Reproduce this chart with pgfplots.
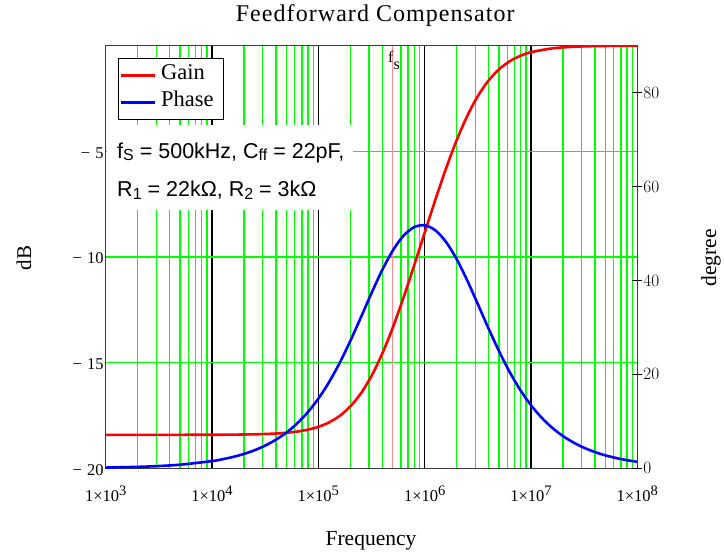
\documentclass[border=0pt]{standalone}
\usepackage{pgfplots}
\pgfplotsset{compat=1.18}
\usepackage{fontspec}
\setmainfont{Liberation Serif}
\setsansfont{Liberation Sans}
\definecolor{gridgreen}{RGB}{0,255,0}
\definecolor{fsred}{RGB}{255,140,140}
\definecolor{framegray}{RGB}{60,60,60}
\newcommand{\xl}[1]{1×10\raisebox{5.5pt}{\fontsize{14.5}{14.5}\selectfont #1}}
\newcommand{\sub}[1]{\raisebox{-2.5pt}{\fontsize{16}{16}\selectfont #1}}

\pgfplotstableread{
f dB
1000 -18.416
2000 -18.416
5000 -18.415
10000 -18.412
12590 -18.410
15850 -18.406
19950 -18.400
25120 -18.391
31620 -18.377
39810 -18.354
50120 -18.318
63100 -18.261
79430 -18.173
100000 -18.038
125900 -17.831
158500 -17.523
199500 -17.078
251200 -16.456
316200 -15.630
398100 -14.587
501200 -13.343
631000 -11.936
794300 -10.419
1000000 -8.852
1259000 -7.300
1585000 -5.825
1995000 -4.487
2512000 -3.330
3162000 -2.386
3981000 -1.654
5012000 -1.117
6310000 -0.738
7943000 -0.480
10000000 -0.309
15850000 -0.126
25120000 -0.050
39810000 -0.020
63100000 -0.008
100000000 -0.003
}\gaintable

\pgfplotstableread{
f deg
1000 0.153
2000 0.307
3000 0.460
5000 0.767
10000 1.533
12590 1.930
15850 2.428
19950 3.055
25120 3.843
31620 4.832
39810 6.071
50120 7.619
63100 9.544
79430 11.920
100000 14.825
125900 18.32
158500 22.42
199500 27.08
251200 32.14
316200 37.30
398100 42.18
501200 46.37
631000 49.51
794300 51.35
1000000 51.75
1259000 50.69
1585000 48.23
1995000 44.59
2512000 40.03
3162000 34.97
3981000 29.82
5012000 24.92
6310000 20.49
7943000 16.66
10000000 13.44
12590000 10.78
15850000 8.62
19950000 6.88
25120000 5.48
31620000 4.36
39810000 3.47
50120000 2.75
63100000 2.19
79430000 1.74
100000000 1.38
}\phasetable

\begin{document}
\begin{tikzpicture}[x=1pt,y=1pt]
\useasboundingbox (0,0) rectangle (724,552);
\begin{axis}[
  at={(105.7pt,83.7pt)}, anchor=south west,
  scale only axis, width=531.6pt, height=422.6pt,
  xmode=log, xmin=1e3, xmax=1e8, ymin=-20, ymax=0,
  axis line style={framegray, line width=1.4pt},
  xtick={1e3,1e4,1e5,1e6,1e7,1e8},
  xticklabels={\xl{3},\xl{4},\xl{5},\xl{6},\xl{7},\xl{8}},
  minor xtick={2e3,3e3,4e3,5e3,6e3,7e3,8e3,9e3,
               2e4,3e4,4e4,5e4,6e4,7e4,8e4,9e4,
               2e5,3e5,4e5,5e5,6e5,7e5,8e5,9e5,
               2e6,3e6,4e6,5e6,6e6,7e6,8e6,9e6,
               2e7,3e7,4e7,5e7,6e7,7e7,8e7,9e7},
  ytick={-20,-15,-10,-5},
  yticklabels={−\hspace{5pt}20,−\hspace{5pt}15,−\hspace{5pt}10,−\hspace{5pt}5},
  major tick length=0pt, minor tick length=0pt,
  xmajorgrids, xminorgrids, ymajorgrids,
  grid style={gridgreen, line width=1.4pt},
  major x grid style={black, line width=1.2pt},
  xticklabel style={font=\fontsize{16.5}{18}\selectfont, anchor=base, inner sep=0pt, yshift=-33pt},
  yticklabel style={font=\fontsize{16.5}{18}\selectfont, anchor=east, inner sep=0pt, xshift=-2pt, yshift=-1.5pt},
  title={Feedforward Compensator},
  title style={font=\fontsize{24}{28}\selectfont\addfontfeature{LetterSpace=4.4}, at={(axis description cs:0.507,1.0442)}, anchor=base},
  xlabel={Frequency},
  xlabel style={font=\fontsize{21.5}{24}\selectfont, at={(axis description cs:0.499,-0.1815)}, anchor=base},
  ylabel={dB},
  ylabel style={font=\fontsize{21}{24}\selectfont, at={(axis description cs:-0.1537,0.4976)}, anchor=center},
]
\fill[white] (axis description cs:0.003,0.6112) rectangle (axis description cs:0.4652,0.8124);
\node[anchor=base west, font=\sffamily\fontsize{21.5}{22}\selectfont, inner sep=0pt] at (axis description cs:0.0213,0.7336) {f\sub{S} = 500kHz, C\sub{ff} = 22pF,};
\node[anchor=base west, font=\sffamily\fontsize{21.5}{22}\selectfont, inner sep=0pt] at (axis description cs:0.0213,0.6427) {R\sub{1} = 22kΩ, R\sub{2} = 3kΩ};
\addplot[fsred, line width=1pt] coordinates {(5e5,-20) (5e5,0)};
\node[anchor=base west, font=\fontsize{16}{16}\selectfont, inner sep=0pt] at (axis description cs:0.531,0.9614) {f\raisebox{-7pt}{s}};
\addplot[red, line width=2.6pt, smooth] table[x=f, y=dB] {\gaintable};
\end{axis}
\begin{axis}[
  at={(105.7pt,83.7pt)}, anchor=south west,
  scale only axis, width=531.6pt, height=422.6pt,
  xmode=log, xmin=1e3, xmax=1e8, ymin=0, ymax=90,
  axis x line=none, axis y line*=right,
  axis line style={framegray, line width=1.4pt},
  ytick={0,20,40,60,80},
  tick align=center, major tick length=10pt,
  tick style={black, line width=1.2pt},
  yticklabel style={font=\fontsize{16.5}{18}\selectfont, anchor=west, inner sep=0pt, xshift=1pt},
  ylabel={degree},
  ylabel style={font=\fontsize{21.5}{24}\selectfont, at={(axis description cs:1.1386,0.4976)}, anchor=center, rotate=0},
  legend style={at={(axis description cs:0.0231,0.9709)}, anchor=north west,
    draw=black, line width=1pt, fill=white, inner xsep=1pt, inner ysep=3.3pt,
    font=\fontsize{22.5}{24}\selectfont,
    nodes={inner sep=2pt, text height=16pt, text depth=7pt},
    row sep=0pt, column sep=3pt},
  legend cell align=left,
  legend image code/.code={\draw[#1] (0pt,0pt) -- (34pt,0pt);},
]
\addlegendimage{red, line width=2.6pt}
\addlegendentry{\makebox[59pt][l]{Gain}}
\addplot[blue, line width=2.6pt, smooth] table[x=f, y=deg] {\phasetable};
\addlegendentry{\makebox[59pt][l]{Phase}}
\end{axis}
\end{tikzpicture}
\end{document}
